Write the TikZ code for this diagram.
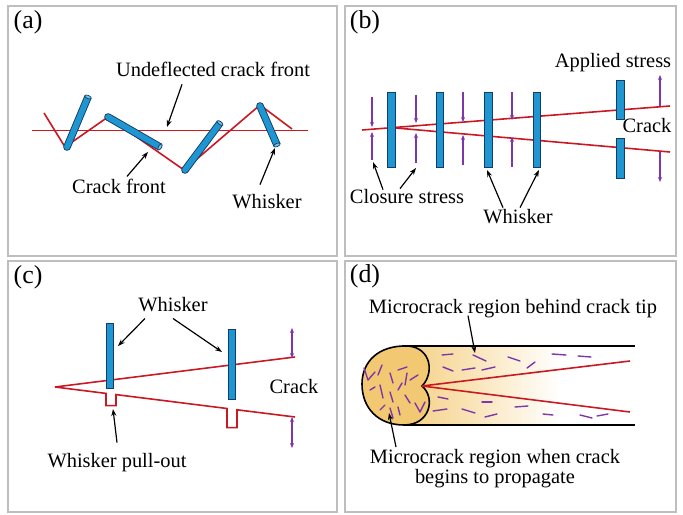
\documentclass[tikz,border=0pt]{standalone}
\usepackage{fontspec}
\setmainfont{Liberation Serif}
\newfontfamily\figserif{Liberation Serif}
\usetikzlibrary{arrows.meta}
\definecolor{wblue}{RGB}{30,150,210}
\definecolor{wedge}{RGB}{20,60,100}
\definecolor{wcap}{RGB}{110,195,235}
\definecolor{crackred}{RGB}{200,25,35}
\definecolor{stresspurple}{RGB}{125,55,170}
\definecolor{panelgray}{RGB}{190,190,190}
\definecolor{kidneyfill}{RGB}{243,200,115}
\definecolor{bandorange}{RGB}{245,208,130}
\newcommand{\wcyl}[3]{%
  \draw[wedge,line width=7.6] #1 -- #2;
  \fill[wedge] #1 circle (3.8);
  \draw[wblue,line width=5.8] #1 -- #2;
  \fill[wblue] #1 circle (2.9);
  \draw[draw=wedge,fill=wcap,line width=0.7,rotate around={#3:#2}] #2 ellipse[x radius=1.6,y radius=3.45];}
\begin{document}
\begin{tikzpicture}[x=1bp,y=-1bp,
  panel/.style={draw=panelgray,line width=1.6},
  lbl/.style={font=\figserif\fontsize{20.5}{20}\selectfont,inner sep=0pt},
  plbl/.style={font=\figserif\fontsize{26}{28}\selectfont,inner sep=0pt},
  crack/.style={draw=crackred,line width=1.6},
  pointer/.style={draw=black,line width=1.2,-{Stealth[length=7pt,width=5pt]}},
  stress/.style={draw=stresspurple,line width=1.3,-{Stealth[length=5pt,width=4pt]}},
  stresstwo/.style={draw=stresspurple,line width=1.3,{Stealth[length=5pt,width=4pt]}-{Stealth[length=5pt,width=4pt]}},
  wrect/.style={draw=wedge,fill=wblue,line width=0.8},
  mcdash/.style={draw=stresspurple,line width=1.4,line cap=round},
]
\fill[white] (0,0) rectangle (683,515);
\useasboundingbox (0,0) rectangle (683,515);

% ---------------- panel (a)
\draw[panel] (8,6) rectangle (337,256);
\node[plbl] (la) at (28,22) {(a)};
\draw[crack] (32,130.5) -- (308,130.5);
\draw[crack] (44,113) -- (65,147) -- (108,117) -- (184,170) -- (260,105) -- (292,129);
\wcyl{(67,147)}{(88,97)}{67.2}
\wcyl{(108,117)}{(160,147)}{-30}
\wcyl{(185,170)}{(220,123)}{53.3}
\wcyl{(260,106)}{(277,145)}{-66.4}
\node[lbl,anchor=base] (ua) at (213,77) {Undeflected crack front};
\coordinate (uaend) at (167,127);
\draw[pointer] ([shift={(-31,7)}]ua.south) -- (uaend);
\node[lbl,anchor=base] (ct) at (119,194) {Crack front};
\coordinate (ctend) at (148,152);
\draw[pointer] ([shift={(8,-3)}]ct.north) -- (ctend);
\node[lbl,anchor=base] (wa) at (267,209) {Whisker};
\coordinate (waend) at (275,148);
\draw[pointer] ([shift={(-7,-10)}]wa.north) -- (waend);

% ---------------- panel (b)
\draw[panel] (345,6) rectangle (676,256);
\node[plbl] (lb) at (365,22) {(b)};
\draw[crack] (362,130) -- (670,106);
\draw[crack] (396,128) -- (670,152);
\draw[wrect] (387,92) rectangle (395,167);
\draw[wrect] (436,92) rectangle (443,167);
\draw[wrect] (484,92) rectangle (492,167);
\draw[wrect] (533,92) rectangle (540,167);
\draw[wrect] (616,80) rectangle (624,119);
\draw[wrect] (616,138) rectangle (624,178);
\draw[stress] (372,97) -- (372,127);
\draw[stress] (372,160) -- (372,132);
\draw[stress] (416,95) -- (416,123);
\draw[stress] (416,163) -- (416,133);
\draw[stress] (463,92) -- (463,122);
\draw[stress] (463,165) -- (463,135);
\draw[stress] (512,92) -- (512,120);
\draw[stress] (512,167) -- (512,137);
\draw[stress] (660,106) -- (660,75);
\draw[stress] (660,152) -- (660,182);
\node[lbl,anchor=base] (as) at (613,68) {Applied stress};
\node[lbl,anchor=base] (crb) at (647,133) {Crack};
\node[lbl,anchor=base] (cs) at (407,204) {Closure stress};
\coordinate (csend1) at (373,162);
\coordinate (csend2) at (416,168);
\draw[pointer] ([shift={(-24,0)}]cs.north) -- (csend1);
\draw[pointer] ([shift={(-7,-1)}]cs.north) -- (csend2);
\node[lbl,anchor=base] (wb) at (518,224) {Whisker};
\coordinate (wbend1) at (487,170);
\coordinate (wbend2) at (539,170);
\draw[pointer] ([shift={(-15,-2)}]wb.north) -- (wbend1);
\draw[pointer] ([shift={(2,-2)}]wb.north) -- (wbend2);

% ---------------- panel (c)
\draw[panel] (8,261) rectangle (337,512);
\node[plbl] (lc) at (28,277) {(c)};
\draw[crack] (55,387) -- (295,357);
\draw[crack] (55,387) -- (106,393.4) -- (106,405.7) -- (116,405.7) -- (116,394.6)
  -- (227,408.5) -- (227,427.7) -- (237,427.7) -- (237,409.8) -- (295,417);
\draw[wrect] (106,323) rectangle (113,388);
\draw[wrect] (228,329) rectangle (235,399);
\draw[stresstwo] (292,328) -- (292,358);
\draw[stresstwo] (292,417) -- (292,448);
\node[lbl,anchor=base] (wc) at (173,311) {Whisker};
\coordinate (wcend1) at (118,346);
\coordinate (wcend2) at (222,352);
\draw[pointer] ([shift={(-28,7)}]wc.south) -- (wcend1);
\draw[pointer] ([shift={(0,7)}]wc.south) -- (wcend2);
\node[lbl,anchor=base] (crc) at (294,393) {Crack};
\node[lbl,anchor=base] (wp) at (117,467) {Whisker pull-out};
\coordinate (wpend) at (113,409);
\draw[pointer] ([shift={(0,-10)}]wp.north) -- (wpend);

% ---------------- panel (d)
\draw[panel] (345,261) rectangle (676,512);
\node[plbl] (ld) at (365,276) {(d)};
\shade[left color=bandorange,right color=white] (404,346) rectangle (560,425);
\draw[line width=1.6] (404,346) -- (635,346);
\draw[line width=1.6] (404,425) -- (635,425);
\draw[fill=kidneyfill,line width=1.6] (422,386) .. controls (434,374) and (432,348) .. (408,346)
  .. controls (378,345) and (362,362) .. (362,384)
  .. controls (362,408) and (378,425) .. (404,425)
  .. controls (430,425) and (436,398) .. (422,386) -- cycle;
\draw[crack] (422,386) -- (630,361);
\draw[crack] (422,386) -- (630,412);
\foreach \xa/\ya/\xb/\yb in {442/355/453/354, 473/355/486/361, 508/357/520/361,
  552/354/566/355, 578/356/591/357, 443/367/453/371, 462/370/475/368,
  482/370/495/367, 527/368/535/362, 438/397/448/399, 482/402/492/402,
  515/407/528/406, 433/411/447/409, 462/409/475/413, 485/417/497/414,
  543/414/553/415, 580/415/592/418, 597/416/608/414,
  364/368/368/380, 368/380/375/372, 382/365/378/375, 390/373/393/383,
  398/370/407/367, 407/373/405/385, 410/380/418/375, 370/390/375/387,
  380/385/383/398, 390/392/393/402, 398/390/402/383, 405/395/410/403,
  380/410/385/405, 390/408/393/418, 398/407/400/415, 415/403/420/412,
  420/412/425/402}
  \draw[mcdash] (\xa,\ya) -- (\xb,\yb);
\node[lbl,anchor=base] (mb) at (513,313) {Microcrack region behind crack tip};
\coordinate (mbend) at (475,353);
\draw[pointer] ([shift={(-45,-2)}]mb.south) -- (mbend);
\node[lbl,anchor=north,align=center] (mw) at (495,449.5)
  {Microcrack region when crack\\begins to propagate};
\coordinate (mwend) at (389,413);
\draw[pointer] ([shift={(-99,-2.5)}]mw.north) -- (mwend);
\end{tikzpicture}
\end{document}
